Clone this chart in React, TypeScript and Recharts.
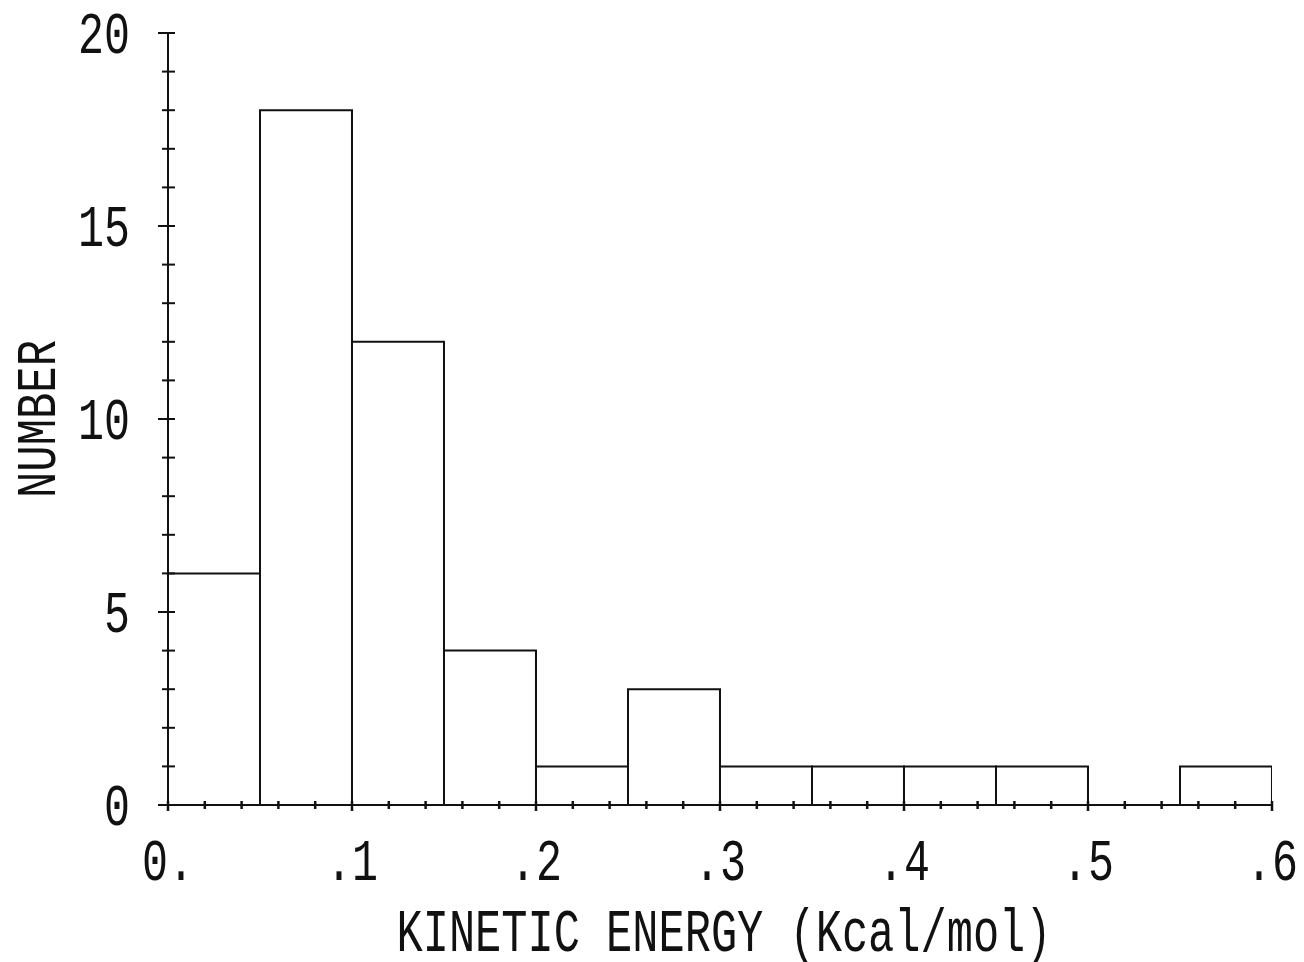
import { Bar, BarChart, Label, XAxis, YAxis } from "recharts";

// histogram bins, 0.05 Kcal/mol wide, keyed by bin centre
const binMids = [0.025, 0.075, 0.125, 0.175, 0.225, 0.275, 0.325, 0.375, 0.425, 0.475, 0.525, 0.575];
const counts = [6, 18, 12, 4, 1, 3, 1, 1, 1, 1, 0, 1];

// axis ticks: minor every 0.02 on x, every 1 on y; labels at the major ones
const energyTicks = Array.from({ length: 31 }, (_, i) => (i * 2) / 100);
const energyLabels: Record<string, string> = { "0": "0.", "10": ".1", "20": ".2", "30": ".3", "40": ".4", "50": ".5", "60": ".6" };
const countTicks = Array.from({ length: 21 }, (_, i) => i);
const countLabels = [0, 5, 10, 15, 20];

const data = binMids.map((mid, i) => ({ mid, count: counts[i] }));

const W = 1304;
const H = 962;
const MARGIN = { top: 33, right: 32, bottom: 0, left: 0 };
const Y_AXIS_W = 168;
const X_AXIS_H = 157;
const BIN_COUNT = binMids.length;
// a hair under the bin width, otherwise recharts falls back to 90% bars
const BAR_W = (W - MARGIN.right - MARGIN.left - Y_AXIS_W) / BIN_COUNT - 0.01;

const INK = "#111";
const FONT = "'Liberation Mono', 'DejaVu Sans Mono', monospace";
const CHAR_W = 26;

function EnergyTick(props: any) {
  const { x, y, payload } = props;
  const hundredths = Math.round(payload.value * 100);
  const label = energyLabels[String(hundredths)];
  const major = hundredths % 10 === 0;
  return (
    <g>
      <line x1={x} x2={x} y1={y - 4} y2={y + (major ? 6 : 4)} stroke={INK} strokeWidth={2.5} />
      {label && (
        <text
          x={x}
          y={y + 75}
          textAnchor="middle"
          fontFamily={FONT}
          fontSize={60}
          fill={INK}
          textLength={label.length * CHAR_W}
          lengthAdjust="spacingAndGlyphs"
        >
          {label}
        </text>
      )}
    </g>
  );
}

function CountTick(props: any) {
  const { x, y, payload } = props;
  const major = countLabels.includes(payload.value);
  const label = String(payload.value);
  return (
    <g>
      <line x1={x - (major ? 10 : 6)} x2={x + 7} y1={y} y2={y} stroke={INK} strokeWidth={2} />
      {major && (
        <text
          x={x - 38}
          y={y + 20}
          textAnchor="end"
          fontFamily={FONT}
          fontSize={60}
          fill={INK}
          textLength={label.length * CHAR_W}
          lengthAdjust="spacingAndGlyphs"
        >
          {label}
        </text>
      )}
    </g>
  );
}

function XTitle(props: any) {
  const { x, y, width } = props.viewBox;
  return (
    <text
      x={x + width / 2 + 4}
      y={y + 146}
      textAnchor="middle"
      fontFamily={FONT}
      fontSize={62}
      fill={INK}
      textLength={655}
      lengthAdjust="spacingAndGlyphs"
    >
      KINETIC ENERGY (Kcal/mol)
    </text>
  );
}

function YTitle(props: any) {
  const { x, y, height } = props.viewBox;
  const cx = x + 55;
  const cy = y + height / 2;
  return (
    <text
      x={cx}
      y={cy}
      transform={`rotate(-90, ${cx}, ${cy})`}
      textAnchor="middle"
      fontFamily={FONT}
      fontSize={56}
      fill={INK}
      textLength={158}
      lengthAdjust="spacingAndGlyphs"
    >
      NUMBER
    </text>
  );
}

export default function App() {
  return (
    <div style={{ position: "absolute", left: 0, top: 0, width: W, height: H, background: "#fff" }}>
      <BarChart width={W} height={H} data={data} margin={MARGIN}>
        <XAxis
          dataKey="mid"
          type="number"
          domain={[0, 0.6]}
          allowDataOverflow
          ticks={energyTicks}
          interval={0}
          height={X_AXIS_H}
          tickSize={0}
          tickMargin={0}
          tickLine={false}
          axisLine={{ stroke: INK, strokeWidth: 2 }}
          tick={<EnergyTick />}
        >
          <Label content={<XTitle />} />
        </XAxis>
        <YAxis
          type="number"
          domain={[0, 20]}
          ticks={countTicks}
          interval={0}
          width={Y_AXIS_W}
          tickSize={0}
          tickMargin={0}
          tickLine={false}
          axisLine={{ stroke: INK, strokeWidth: 2 }}
          tick={<CountTick />}
        >
          <Label content={<YTitle />} />
        </YAxis>
        <Bar
          dataKey="count"
          barSize={BAR_W}
          fill="#fff"
          stroke={INK}
          strokeWidth={2}
          isAnimationActive={false}
        />
      </BarChart>
    </div>
  );
}
